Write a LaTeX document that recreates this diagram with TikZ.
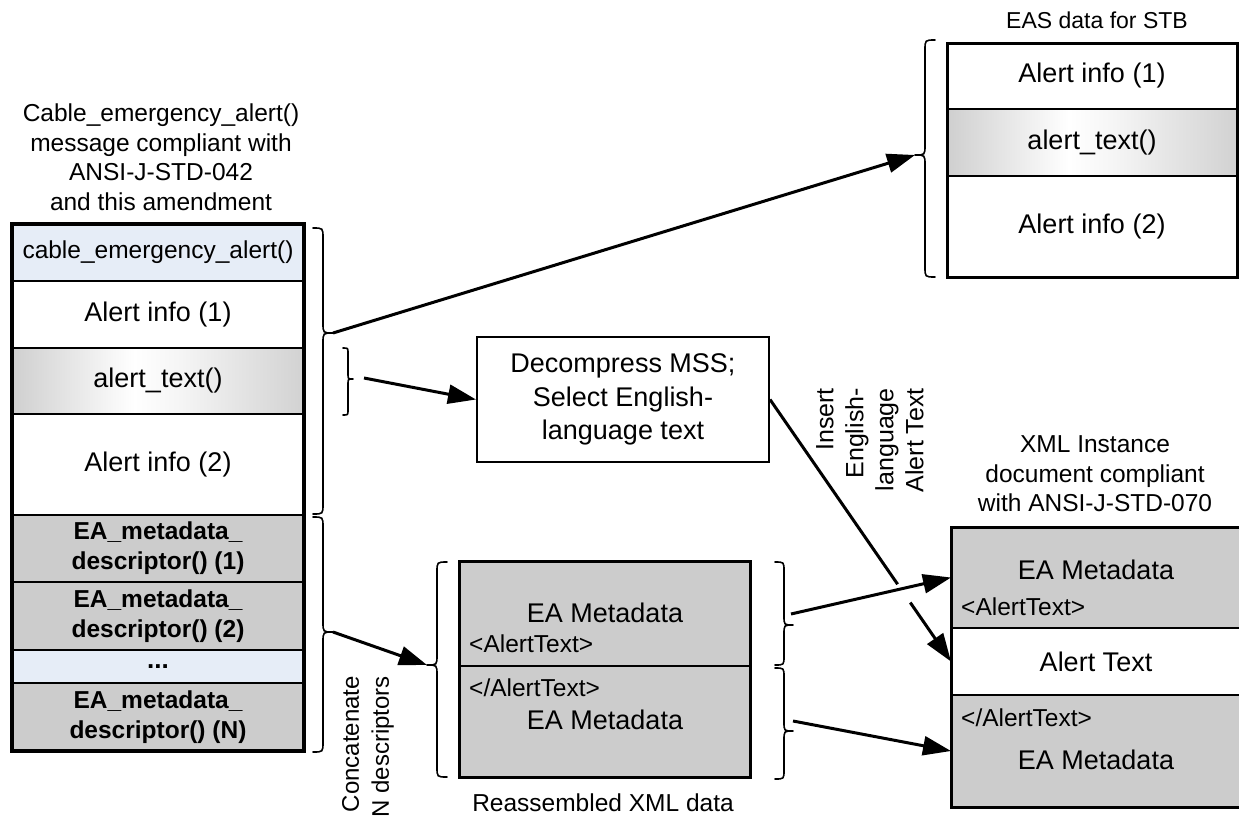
\documentclass[tikz,border=0pt]{standalone}
\usepackage{fontspec}
\setmainfont{Liberation Sans}
\usetikzlibrary{arrows.meta,calc}
\definecolor{ceablue}{RGB}{230,237,247}
\definecolor{boxgray}{RGB}{204,204,204}
\definecolor{gradL}{RGB}{150,150,150}
\definecolor{gradR}{RGB}{168,168,168}
\pgfdeclarehorizontalshading{atgrad}{100bp}{color(0bp)=(gradL); color(46bp)=(white); color(54bp)=(white!96!black); color(100bp)=(gradR)}
\newcommand\BrR[5]{\draw[brace] (#1,#2) .. controls (#1+#5,#2) .. (#1+#5,#2+#5) -- (#1+#5,#3-#5) .. controls (#1+#5,#3) .. (#1+2*#5,#3) .. controls (#1+#5,#3) .. (#1+#5,#3+#5) -- (#1+#5,#4-#5) .. controls (#1+#5,#4) .. (#1,#4);}
\newcommand\BrL[5]{\draw[brace] (#1,#2) .. controls (#1-#5,#2) .. (#1-#5,#2+#5) -- (#1-#5,#3-#5) .. controls (#1-#5,#3) .. (#1-2*#5,#3) .. controls (#1-#5,#3) .. (#1-#5,#3+#5) -- (#1-#5,#4-#5) .. controls (#1-#5,#4) .. (#1,#4);}
\begin{document}
\begin{tikzpicture}[x=1pt,y=-1pt,
  big/.style={font=\fontsize{27}{33.5}\selectfont},
  small/.style={font=\fontsize{24.5}{29.5}\selectfont},
  title/.style={font=\fontsize{24.5}{29.5}\selectfont, align=center, inner sep=0pt},
  row/.style={draw, line width=2.5pt, inner sep=0pt, outer sep=0pt, align=center},
  frame/.style={draw, line width=3.5pt},
  grad/.style={shade, shading=atgrad},
  brace/.style={line width=1.6pt, line cap=round, line join=round},
  conn/.style={line width=3pt, -{Triangle[length=28pt,width=19pt]}},
  plain/.style={line width=3pt},
]
\useasboundingbox (0,0) rectangle (1239,822);

% ---------- left stack ----------
\node[title] (ltitle) at (161,157) {Cable\_emergency\_alert()\\message compliant with\\ANSI-J-STD-042\\and this amendment};
\node[row, small, fill=ceablue, minimum width=292pt, minimum height=57pt] (cea) at (158,252.5) {cable\_emergency\_alert()};
\node[row, big, fill=white, minimum width=292pt, minimum height=67pt] (ai1) at (158,314.5) {Alert info (1)};
\node[row, big, grad, minimum width=292pt, minimum height=66pt] (at) at (158,381) {alert\_text()};
\node[row, big, fill=white, minimum width=292pt, minimum height=101pt] (ai2) at (158,464.5) {Alert info (2)};
\node[row, small, font=\fontsize{24.5}{30}\selectfont\bfseries, fill=boxgray, minimum width=292pt, minimum height=67pt] (ea1) at (158,548.5) {EA\_metadata\_\\descriptor() (1)};
\node[row, small, font=\fontsize{24.5}{30}\selectfont\bfseries, fill=boxgray, minimum width=292pt, minimum height=68pt] (ea2) at (158,616) {EA\_metadata\_\\descriptor() (2)};
\node[row, small, font=\fontsize{26}{30}\selectfont\bfseries, fill=ceablue, minimum width=292pt, minimum height=33pt] (dots) at (158,666.5) {...};
\node[row, small, font=\fontsize{24.5}{30}\selectfont\bfseries, fill=boxgray, minimum width=292pt, minimum height=68pt] (ean) at (158,717) {EA\_metadata\_\\descriptor() (N)};
\draw[frame] (cea.north west) rectangle (ean.south east);

% braces next to left stack
\BrR{313}{228}{333}{514}{10}
\coordinate (tipA) at (333,333);
\BrR{313}{517}{632}{752}{10}
\coordinate (tipB) at (333,632);
\BrR{343}{348}{379}{415}{5}
\coordinate (tipS) at (364,378);

% ---------- EAS data for STB ----------
\node[title, font=\fontsize{23}{28}\selectfont] (etitle) at (1097,20) {EAS data for STB};
\node[row, big, fill=white, minimum width=290pt, minimum height=66pt] (eai1) at (1092,76) {Alert info (1)};
\node[row, big, grad, minimum width=290pt, minimum height=67pt] (eat) at (1092,142.5) {alert\_text()};
\node[row, big, fill=white, minimum width=290pt, minimum height=101pt] (eai2) at (1092,226.5) {Alert info (2)};
\draw[frame, line width=3pt] (eai1.north west) rectangle (eai2.south east);
\BrL{935}{40}{155}{277}{10}
\coordinate (tipE) at (915,155);

% ---------- Decompress box ----------
\node[draw, line width=2pt, big, align=center, minimum width=292pt, minimum height=125pt, inner sep=0pt] (dec) at (623,399.5) {Decompress MSS;\\Select English-\\language text};

% ---------- Reassembled XML data ----------
\node[row, fill=boxgray, minimum width=291pt, minimum height=105pt] (r1) at (604.5,613.5) {};
\node[row, fill=boxgray, minimum width=291pt, minimum height=111pt] (r2) at (604.5,721.5) {};
\draw[frame, line width=3pt] (r1.north west) rectangle (r2.south east);
\node[big] (r1a) at (605,613) {EA Metadata};
\node[small, anchor=west, inner sep=0pt] (r1b) at (469,644) {\textless AlertText\textgreater};
\node[small, anchor=west, inner sep=0pt] (r2a) at (469,688) {\textless/AlertText\textgreater};
\node[big] (r2b) at (605,720) {EA Metadata};
\node[title] (rtitle) at (603,803) {Reassembled XML data};
\BrL{447}{562}{665}{777}{10}
\coordinate (tipR) at (427,665);
\BrR{775}{562}{625}{665}{9}
\BrR{775}{668}{731}{779}{9}
\coordinate (s1) at (791,614);
\coordinate (s2) at (793,721);

% ---------- XML instance document ----------
\node[title] (xtitle) at (1095,474) {XML Instance\\document compliant\\with ANSI-J-STD-070};
\node[row, fill=boxgray, minimum width=290pt, minimum height=101pt] (x1) at (1096,577.5) {};
\node[row, fill=white, minimum width=290pt, minimum height=67pt] (x2) at (1096,661.5) {};
\node[row, fill=boxgray, minimum width=290pt, minimum height=112pt] (x3) at (1096,751) {};
\draw[frame, line width=3pt] (x1.north west) rectangle (x3.south east);
\node[big] (x1a) at (1096,570) {EA Metadata};
\node[small, anchor=west, inner sep=0pt] (x1b) at (961,607) {\textless AlertText\textgreater};
\node[big] (x2a) at (1096,662) {Alert Text};
\node[small, anchor=west, inner sep=0pt] (x3a) at (961,718) {\textless/AlertText\textgreater};
\node[big] (x3b) at (1096,760) {EA Metadata};

% ---------- rotated labels ----------
\node[rotate=90, anchor=east, align=right, inner sep=0pt, font=\fontsize{25}{30}\selectfont] (ins) at (870,388) {Insert\\English-\\language\\Alert Text};
\node[rotate=90, anchor=east, align=right, inner sep=0pt, font=\fontsize{24}{30}\selectfont] (cat) at (368,676) {Concatenate\\N descriptors};

% ---------- connectors ----------
\draw[conn] (tipA) -- (tipE);
\draw[conn] (tipS) -- (dec.west);
\draw[conn] (tipB) -- (tipR);
\path (dec.east) -- (x2.west) coordinate[pos=0.705] (g1) coordinate[pos=0.775] (g2);
\draw[plain] (dec.east) -- (g1);
\draw[conn] (g2) -- (x2.west);
\draw[conn] (s1) -- (x1.west);
\draw[conn] (s2) -- (x3.west);
\end{tikzpicture}
\end{document}
